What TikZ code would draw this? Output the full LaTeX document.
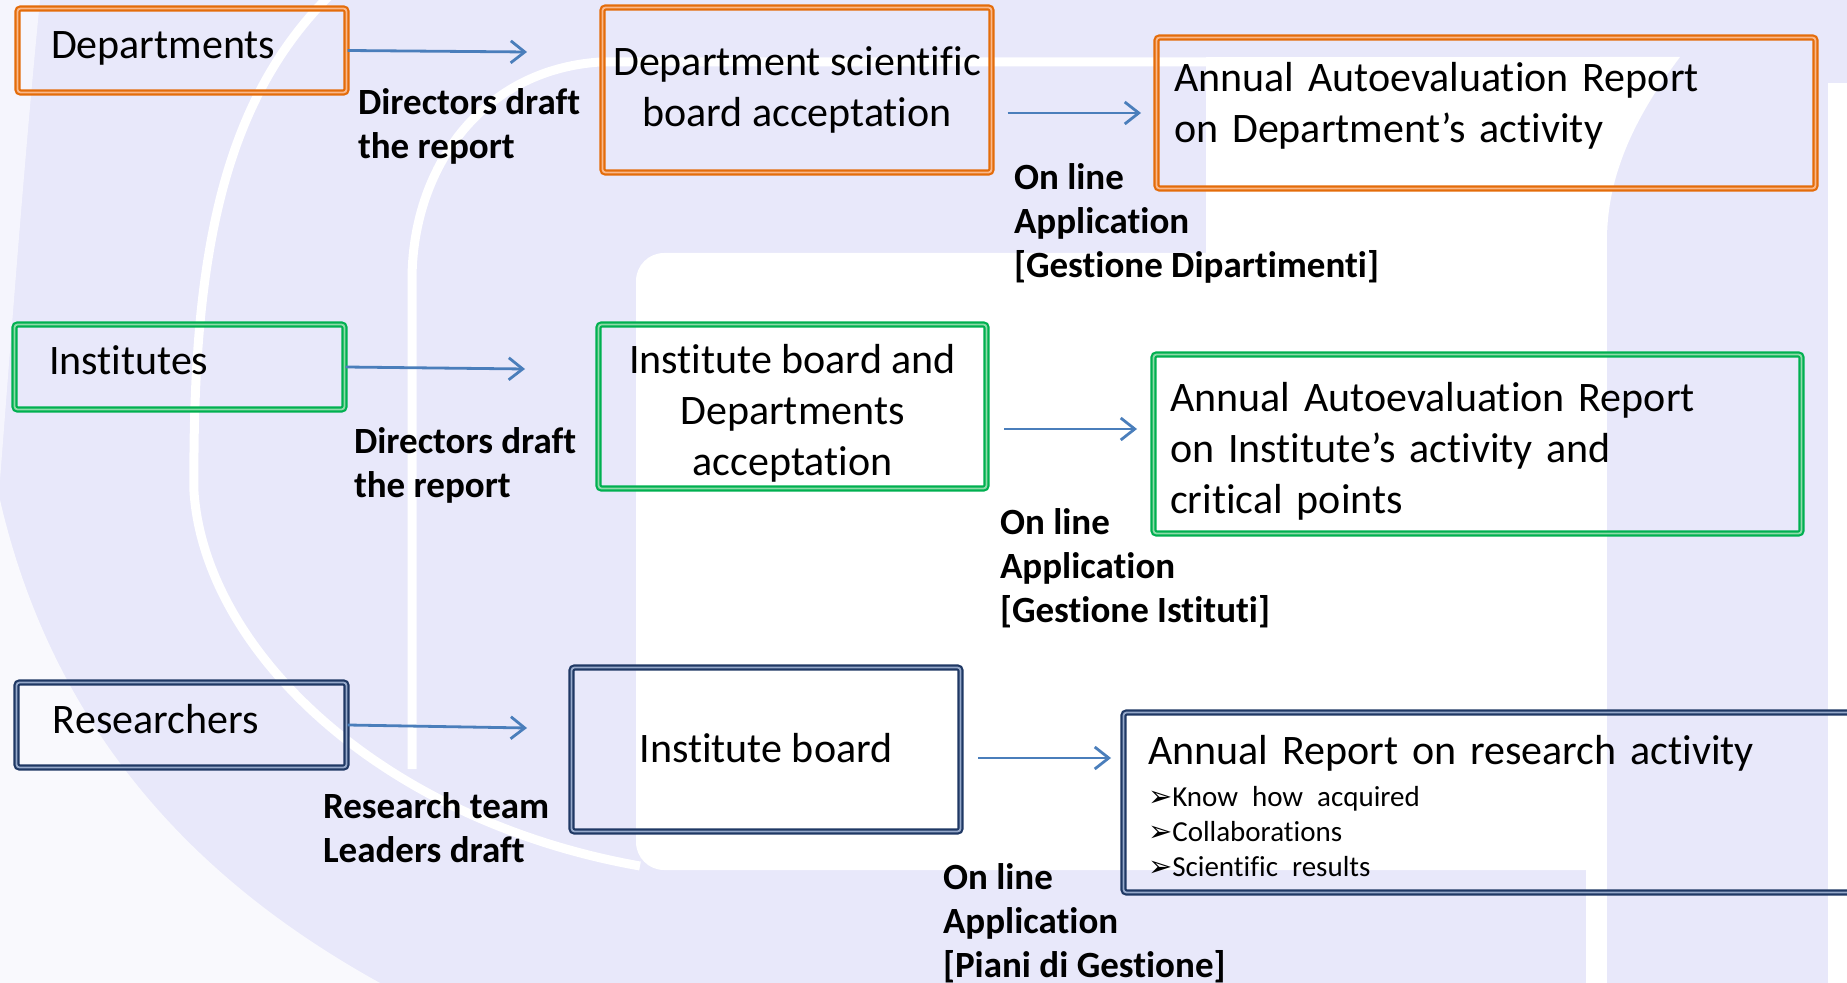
\documentclass[tikz,border=0pt]{standalone}
\usepackage{fontspec}
\setmainfont{Carlito}[RawFeature={-liga;-clig;-calt}]
\newfontfamily\dingfont{DejaVu Sans}
\usetikzlibrary{arrows.meta, positioning}
\definecolor{corange}{HTML}{E46C0A}
\definecolor{corangelt}{HTML}{FAB98C}
\definecolor{cgreen}{HTML}{00B050}
\definecolor{cgreenlt}{HTML}{8FDBAA}
\definecolor{cnavy}{HTML}{1F3864}
\definecolor{cnavylt}{HTML}{97AACB}
\definecolor{carrow}{HTML}{4A7EBB}
\definecolor{clav}{HTML}{E8E8FA}
\tikzset{
  every picture/.style={line width=1pt},
  box/.style={draw=#1, double=#1lt, double distance=0.9pt, line width=1.1pt, rounded corners=1.5pt, inner sep=0pt, font=\fontsize{21}{25.5}\selectfont},
  box/.default=cnavy,
  one/.style={text height=13.5pt, text depth=5.5pt},
  arrow/.style={-{Straight Barb[length=7pt, width=11pt]}, draw=carrow, line width=1.4pt},
  note/.style={font=\bfseries\fontsize{18.5}{22}\selectfont, align=left, anchor=base west, inner sep=0pt},
  wline/.style={draw=white, line width=4.5pt},
}
\newcommand{\bul}{{\dingfont ➢}}

\begin{document}
\begin{tikzpicture}[x=0.5pt, y=-0.5pt]
  \useasboundingbox (0,0) rectangle (1847,983);
  % watermark behind the diagram
  \fill[clav] (0,0) rectangle (1847,983);
  \fill[white, rounded corners=14] (636,253) rectangle (1620,870);
  \fill[white] (1206,57) rectangle (1607,262);
  \fill[white] (1600,57) -- (1680,57) .. controls (1640,110) and (1607,170) .. (1607,240) -- (1600,240) -- cycle;
  \fill[white] (1586,860) rectangle (1607,983);
  \fill[clav] (1607,230) rectangle (1828,983);
  \fill[white] (1828,83) rectangle (1847,983);
  \fill[white, opacity=0.75] (0,500) .. controls (60,760) and (230,900) .. (380,983) -- (0,983) -- cycle;
  \fill[white, opacity=0.6] (0,0) -- (40,0) .. controls (25,150) and (10,350) .. (0,480) -- cycle;
  \draw[wline] (330,-5) .. controls (225,100) and (192,250) .. (194,492) .. controls (205,650) and (380,820) .. (640,866);
  \draw[wline] (1210,62) -- (600,62) .. controls (480,70) and (412,170) .. (412,280) -- (412,769);

  % Departments
  \node[box=corange, one, text width=131pt, align=left, inner xsep=16.75pt, minimum height=42pt] (dep) at (182,50.5) {Departments};
  \node[box=corange, align=center, minimum width=194.5pt, minimum height=82.5pt] (dsb) at (797,90) {Department scientific\\board acceptation};
  \node[box=corange, text width=312pt, align=left, inner xsep=8.75pt, minimum height=75.5pt] (rep1) at (1486,113) {Annual Autoevaluation Report\\on Department’s activity\rule[-11pt]{0pt}{1pt}};
  \coordinate (t1) at (527,52);
  \coordinate (t2) at (1141,113);
  \draw[arrow] (dep.east) -- (t1);
  \draw[arrow] ([shift={(15,23)}]dsb.east) -- (t2);
  \node[note] (lab1) at (357,159) {Directors draft\\the report};
  \node[note] (lab2) at (1013,278) {On line\\Application\\{[Gestione Dipartimenti]}};

  % Institutes
  \node[box=cgreen, one, text width=130.5pt, align=left, inner xsep=17.25pt, minimum height=42.5pt] (inst) at (179.5,367) {Institutes};
  \node[box=cgreen, align=center, minimum width=194pt, minimum height=82pt] (ibd) at (792.5,406.5) {\rule{0pt}{21.7pt}Institute board and\\Departments\\acceptation};
  \node[box=cgreen, text width=307.5pt, align=left, inner xsep=8.25pt, minimum height=89.5pt] (rep2) at (1477.5,444) {\rule{0pt}{21.7pt}Annual Autoevaluation Report\\on Institute’s activity and\\critical points};
  \coordinate (t3) at (525,369);
  \coordinate (t4) at (1137,429);
  \draw[arrow] (inst.east) -- (t3);
  \draw[arrow] ([shift={(16.5,22.5)}]ibd.east) -- (t4);
  \node[note] (lab3) at (353,498) {Directors draft\\the report};
  \node[note] (lab4) at (999,623) {On line\\Application\\{[Gestione Istituti]}};

  % Researchers
  \node[box=cnavy, one, text width=128.5pt, align=left, inner xsep=18.25pt, minimum height=42.5pt] (res) at (181.5,725) {Researchers};
  \node[box=cnavy, text height=17pt, text depth=4.5pt, align=center, minimum width=194.5pt, minimum height=82pt] (ib) at (766,749.5) {Institute board};
  \node[box=cnavy, text width=362pt, align=left, inner xsep=12.25pt, minimum height=90pt] (rep3) at (1510,802.5) {\rule{0pt}{18.2pt}Annual Report on research activity\\[-4.5pt]
    {\fontsize{14.5}{17.5}\selectfont\bul Know how acquired}\\[-8pt]
    {\fontsize{14.5}{17.5}\selectfont\bul Collaborations}\\[-8pt]
    {\fontsize{14.5}{17.5}\selectfont\bul Scientific results}};
  \coordinate (t5) at (527,728);
  \coordinate (t6) at (1111,758);
  \draw[arrow] (res.east) -- (t5);
  \draw[arrow] ([shift={(16.5,8.5)}]ib.east) -- (t6);
  \node[note] (lab5) at (322,862) {Research team\\Leaders draft};
  \node[note] (lab6) at (942,977) {On line\\Application\\{[Piani di Gestione]}};
\end{tikzpicture}
\end{document}
